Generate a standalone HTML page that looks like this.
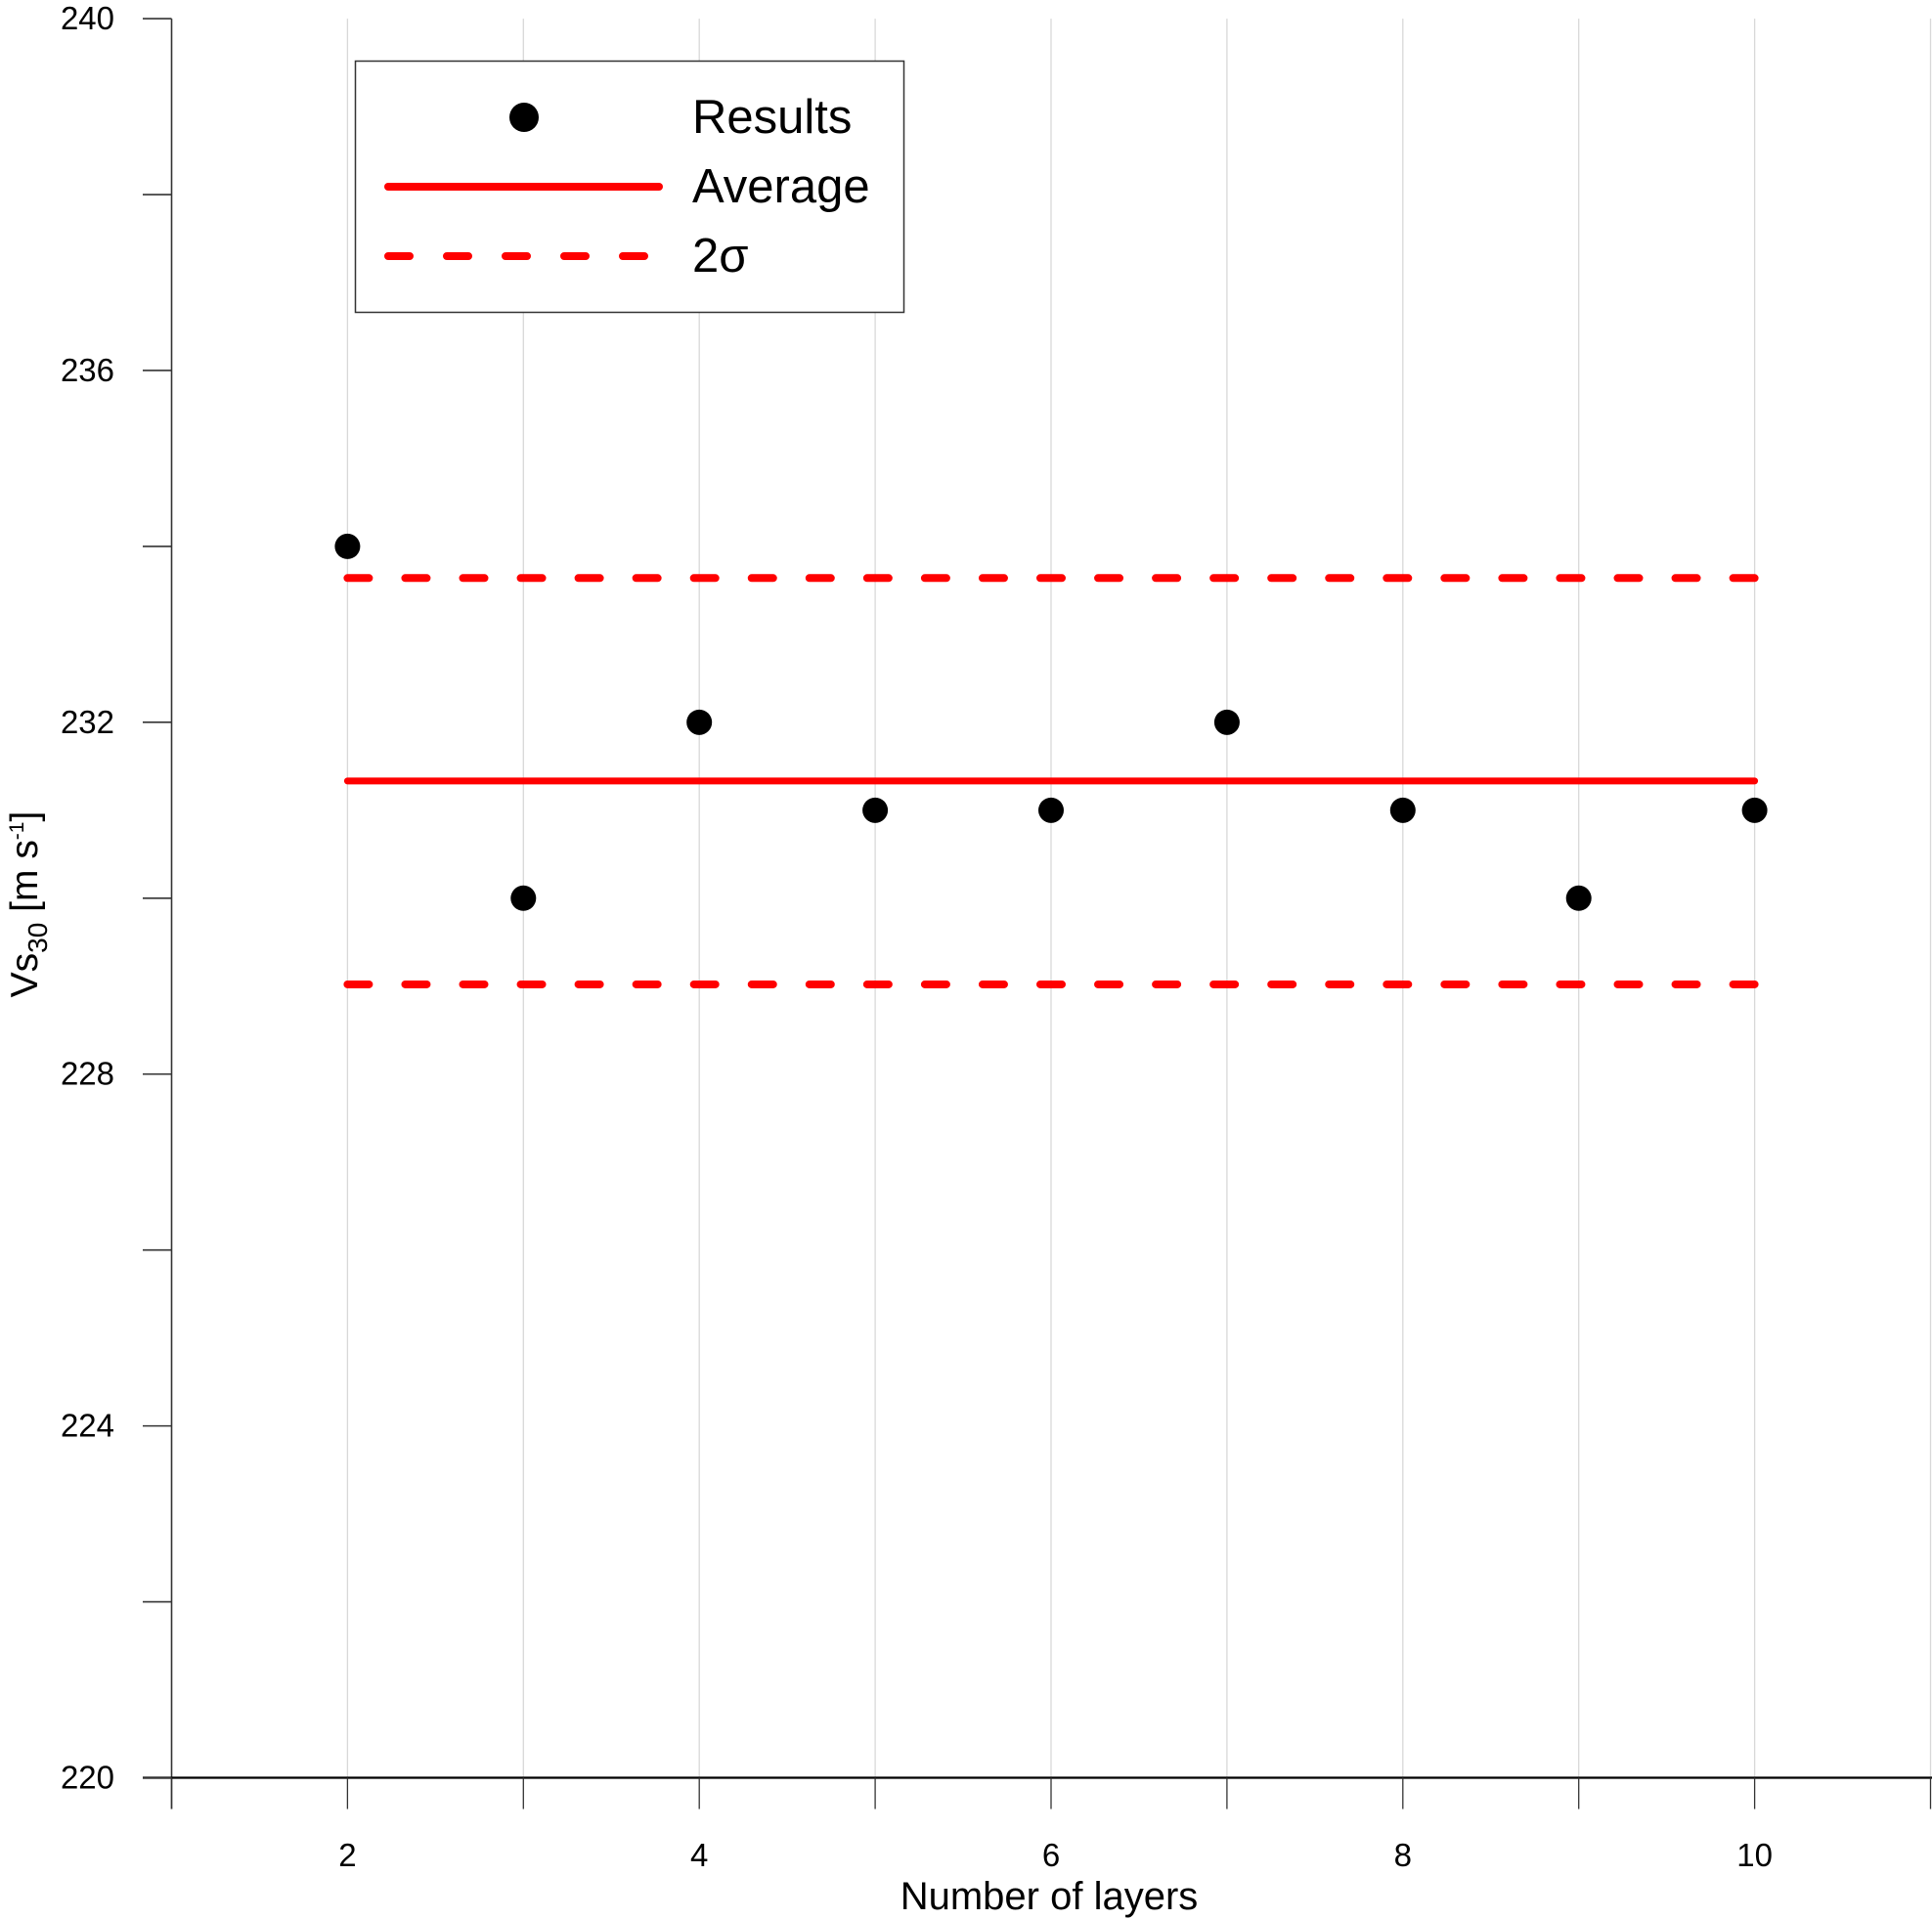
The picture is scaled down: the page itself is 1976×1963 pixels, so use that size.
<!DOCTYPE html>
<html><head><meta charset="utf-8"><style>
body{margin:0;background:#fff}
svg{display:block;font-family:"Liberation Sans",Arial,sans-serif}
</style></head><body>
<svg id="chart" width="1976" height="1963" viewBox="0 0 1976 1963">
<g id="grid"></g>
<g id="axes"></g>
<g id="series"></g>
<text x="1073" y="1953" font-size="40" text-anchor="middle">Number of layers</text>
<text transform="translate(38,925) rotate(-90)" font-size="39" text-anchor="middle">Vs<tspan font-size="28" dy="10">30</tspan><tspan dy="-10"> [m s</tspan><tspan font-size="21" dy="-14">-1</tspan><tspan dy="14">]</tspan></text>
<g>
<rect x="363.5" y="62.5" width="561" height="257" fill="#fff" stroke="#333" stroke-width="1.5"/>
<circle cx="536" cy="120" r="15" fill="#000"/>
<text x="708" y="136" font-size="49">Results</text>
<line x1="397" y1="191" x2="674" y2="191" stroke="#f00" stroke-width="8" stroke-linecap="round"/>
<text x="708" y="207" font-size="49">Average</text>
<line x1="397" y1="262" x2="662" y2="262" stroke="#f00" stroke-width="8" stroke-linecap="round" stroke-dasharray="22 38"/>
<text x="708" y="278" font-size="49">2σ</text>
</g>
</svg>
<script>
const layers=[2,3,4,5,6,7,8,9,10];
const vs30=[234,230,232,231,231,232,231,230,231];
const yTicks=[220,224,228,232,236,240];
const yMinor=[222,226,230,234,238];
const xTicks=[2,4,6,8,10];
const avg=231.333;
const twoSigmaUpper=233.64;
const twoSigmaLower=229.02;
const NS="http://www.w3.org/2000/svg";
const X=v=>175.5+(v-1)*179.9;
const Y=v=>1818.5-(v-220)*89.97;
function mk(tag,attrs,parent,text){const e=document.createElementNS(NS,tag);for(const k in attrs)e.setAttribute(k,attrs[k]);if(text!==undefined)e.textContent=text;parent.appendChild(e);return e;}
const grid=document.getElementById('grid'),axes=document.getElementById('axes'),series=document.getElementById('series');
for(let i=2;i<=11;i++){const l=mk('line',{x1:X(i),x2:X(i),y1:Y(240),y2:Y(220),stroke:'#d8d8d8','stroke-width':1.3},grid);

}
let a=mk('line',{x1:X(1),x2:X(1),y1:Y(240),y2:Y(220)+32,stroke:'#333','stroke-width':1.6},axes);


a=mk('line',{x1:146,x2:1976,y1:Y(220),y2:Y(220),stroke:'#000','stroke-width':2.2},axes);


for(let i=1;i<=11;i++){const t=mk('line',{x1:X(i),x2:X(i),y1:Y(220),y2:Y(220)+32,stroke:'#333','stroke-width':1.3},axes);

}
yTicks.concat(yMinor).forEach(v=>{const t=mk('line',{x1:146,x2:175.5,y1:Y(v),y2:Y(v),stroke:'#333','stroke-width':1.6},axes);

});
yTicks.forEach(v=>{const t=mk('text',{x:117,y:Y(v)+11,'font-size':33,'text-anchor':'end'},axes,String(v));

});
xTicks.forEach(v=>{const t=mk('text',{x:X(v),y:1909,'font-size':33,'text-anchor':'middle'},axes,String(v));

});
const x0=X(layers[0]),x1=X(layers[layers.length-1]);
const period=(x1-x0-22)/24;
[twoSigmaUpper,twoSigmaLower].forEach(v=>{const l=mk('line',{x1:x0,x2:x1,y1:Y(v),y2:Y(v),stroke:'#f00','stroke-width':8,'stroke-linecap':'round','stroke-dasharray':'22 '+(period-22)},series);

});
const al=mk('line',{x1:x0,x2:x1,y1:Y(avg),y2:Y(avg),stroke:'#f00','stroke-width':7,'stroke-linecap':'round'},series);


layers.forEach((l,i)=>{const c=mk('circle',{cx:X(l),cy:Y(vs30[i]),r:13,fill:'#000'},series);

});
</script>
</body></html>
